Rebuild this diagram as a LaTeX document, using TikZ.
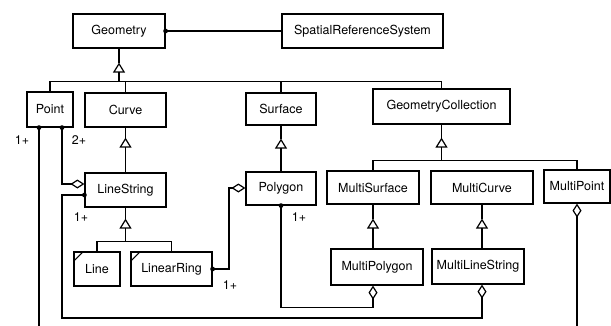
\documentclass[tikz,border=0pt]{standalone}
\usepackage{fontspec}
\setmainfont{TeX Gyre Heros}
\usetikzlibrary{arrows.meta,calc}
\begin{document}
\begin{tikzpicture}[x=1pt,y=-1pt,line width=1.2pt,
  cls/.style={draw,rectangle,inner sep=0pt,font=\fontsize{12.5}{15}\selectfont},
  gen/.style={-{Triangle[open,length=10pt,width=12pt]}},
  agg/.style={-{Diamond[open,length=14pt,width=9pt]}},
  mult/.style={inner sep=0pt,font=\fontsize{12.5}{15}\selectfont},
  abstractmark/.style={line width=1.1pt}]
\useasboundingbox (0,0) rectangle (611,325);

% classes
\node[cls,minimum width=92pt,minimum height=34pt] (geometry) at (119,31) {Geometry};
\node[cls,minimum width=161pt,minimum height=34pt] (srs) at (362.5,31) {SpatialReferenceSystem};
\node[cls,minimum width=46pt,minimum height=35pt] (point) at (50,109.5) {Point};
\node[cls,minimum width=81pt,minimum height=34pt] (curve) at (125.5,110) {Curve};
\node[cls,minimum width=70pt,minimum height=32pt] (surface) at (281,109) {Surface};
\node[cls,minimum width=137pt,minimum height=35pt] (geomcoll) at (441.5,106.5) {GeometryCollection};
\node[cls,minimum width=81pt,minimum height=34pt] (linestring) at (125.5,190) {LineString};
\node[cls,minimum width=70pt,minimum height=33pt] (polygon) at (281,188.5) {Polygon};
\node[cls,minimum width=46pt,minimum height=34pt] (line) at (97,269) {Line};
\node[cls,minimum width=81pt,minimum height=34pt] (linearring) at (171.5,269) {LinearRing};
\node[cls,minimum width=92pt,minimum height=33pt] (multisurface) at (373,187.5) {MultiSurface};
\node[cls,minimum width=102pt,minimum height=33pt] (multicurve) at (482,187.5) {MultiCurve};
\node[cls,minimum width=66pt,minimum height=33pt] (multipoint) at (577,186.5) {MultiPoint};
\node[cls,minimum width=92pt,minimum height=36pt] (multipolygon) at (377,267) {MultiPolygon};
\node[cls,minimum width=92pt,minimum height=35pt] (multilinestring) at (478,266.5) {MultiLineString};

% corner marks of the concrete leaf classes
\draw[abstractmark] ($(line.north west)+(0,10)$) -- ($(line.north west)+(10,0)$);
\draw[abstractmark] ($(linearring.north west)+(0,10)$) -- ($(linearring.north west)+(10,0)$);

% Geometry -- SpatialReferenceSystem
\draw (geometry.east) -- (geometry.east -| srs.west);
\fill (geometry.east) circle (2.4pt);

% generalization: Geometry
\coordinate (geo-tip) at ($(geometry.south)+(0,14)$);
\coordinate (geo-bus) at ($(geometry.south)+(0,33)$);
\draw (geometry.south) -- (geo-tip);
\draw[gen] (geo-bus) -- (geo-tip);
\draw (point.north) |- (geo-bus) -| (geomcoll.north);
\draw (curve.north) -- (curve.north |- geo-bus);
\draw (surface.north) -- (surface.north |- geo-bus);

% generalization: Curve -> LineString
\coordinate (cur-tip) at ($(curve.south)+(0,10)$);
\draw (curve.south) -- (cur-tip);
\draw[gen] (linestring.north) -- (cur-tip);

% generalization: Surface -> Polygon
\coordinate (sur-tip) at ($(surface.south)+(0,13)$);
\draw (surface.south) -- (sur-tip);
\draw[gen] (polygon.north) -- (sur-tip);

% generalization: GeometryCollection
\coordinate (gc-tip) at ($(geomcoll.south)+(0,13)$);
\coordinate (gc-bus) at ($(geomcoll.south)+(0,36)$);
\draw (geomcoll.south) -- (gc-tip);
\draw[gen] (gc-bus) -- (gc-tip);
\draw (multisurface.north) |- (gc-bus) -| (multipoint.north);

% generalization: LineString -> Line, LinearRing
\coordinate (ls-tip) at ($(linestring.south)+(0,11)$);
\coordinate (ls-bus) at ($(linestring.south)+(0,34)$);
\draw (linestring.south) -- (ls-tip);
\draw[gen] (ls-bus) -- (ls-tip);
\draw (line.north) |- (ls-bus) -| (linearring.north);

% generalization: MultiSurface -> MultiPolygon, MultiCurve -> MultiLineString
\coordinate (ms-tip) at ($(multisurface.south)+(0,14)$);
\draw (multisurface.south) -- (ms-tip);
\draw[gen] (multipolygon.north -| multisurface.south) -- (ms-tip);
\coordinate (mc-tip) at ($(multicurve.south)+(0,14)$);
\draw (multicurve.south) -- (mc-tip);
\draw[gen] (multilinestring.north -| multicurve.south) -- (mc-tip);

% aggregations
\coordinate (pt-a) at (point.south -| 39,0);
\coordinate (pt-b) at (point.south -| 62,0);
\coordinate (ls-in) at (linestring.north west |- 0,184);
\coordinate (ls-out) at (linestring.north west |- 0,195);
\coordinate (mpoly-in) at (multipolygon.south -| multisurface.south);
\coordinate (mls-in) at (multilinestring.south -| multicurve.south);

\draw[agg] (pt-b) |- (ls-in);
\draw[agg] (ls-out) -| (62,318) -| (mls-in);
\draw[agg] (polygon.south) |- ($(mpoly-in)+(0,22)$) -- (mpoly-in);
\draw[agg] (linearring.east) -| (229,188) -- (polygon.west |- 0,188);
\draw[agg] (pt-a) -- (39,334) -| (multipoint.south);

\fill (pt-a) circle (2.4pt);
\fill (pt-b) circle (2.4pt);
\fill (ls-out) circle (2.4pt);
\fill (polygon.south) circle (2.4pt);
\fill (linearring.east) circle (2.4pt);

% multiplicities
\node[mult] (m-pa) at (22,140) {1+};
\node[mult] (m-pb) at (79,140) {2+};
\node[mult] (m-ls) at (81,217) {1+};
\node[mult] (m-pg) at (299,217) {1+};
\node[mult] (m-lr) at (230,285) {1+};
\end{tikzpicture}
\end{document}
